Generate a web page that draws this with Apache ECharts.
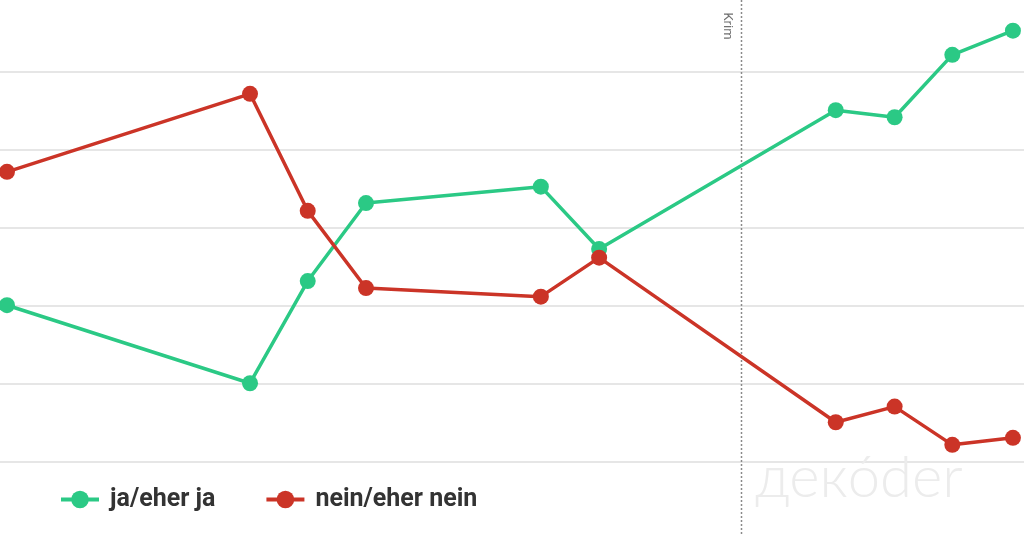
<!DOCTYPE html>
<html>
<head>
<meta charset="utf-8">
<script src="https://cdn.jsdelivr.net/npm/echarts@6/dist/echarts.min.js"></script>
<style>
html,body{margin:0;padding:0;background:#fff;}
#c{width:1024px;height:535px;}
</style>
</head>
<body>
<div id="c"></div>
<script>
// survey dates (decimal years)
var dates = [2001.6, 2005.77, 2006.76, 2007.76, 2010.76, 2011.76, 2015.82, 2016.83, 2017.82, 2018.86];
var jaValues = [30.1, 20.1, 33.2, 43.2, 45.3, 37.3, 55.1, 54.2, 62.2, 65.3];
var neinValues = [47.2, 57.2, 42.2, 32.3, 31.2, 36.2, 15.1, 17.1, 12.2, 13.1];
var seriesNames = ['ja/eher ja', 'nein/eher nein'];
var krimDate = 2014.2;
var krimLabel = 'Krim';
var watermark = 'декóder';

var green = '#2bc985';
var red = '#cb3427';

function pairs(xs, ys){ return xs.map(function(x,i){ return [x, ys[i]]; }); }

var chart = echarts.init(document.getElementById('c'), null, {renderer:'canvas'});
var gridLine = '#e6e6e6';
chart.setOption({
  animation: false,
  backgroundColor: '#fff',
  grid: {left: 0, right: 0, top: 0, bottom: 73},
  xAxis: {
    type: 'value', min: 2001.48, max: 2019.05,
    axisLine: {show:false}, axisTick: {show:false}, axisLabel: {show:false}, splitLine: {show:false}
  },
  yAxis: {
    type: 'value', min: 10, max: 69.23, interval: 10,
    axisLine: {show:false}, axisTick: {show:false}, axisLabel: {show:false},
    splitLine: {show:true, lineStyle: {color:[gridLine,gridLine,gridLine,gridLine,gridLine,gridLine,'rgba(0,0,0,0)'], width: 2}}
  },
  legend: {
    left: 54, top: 482,
    itemWidth: 38, itemHeight: 22, itemGap: 49,
    lineStyle: {width: 4},
    textStyle: {fontFamily: 'Roboto', fontWeight: 'bold', fontSize: 25, color: '#333', padding: [0,0,0,6]},
    data: seriesNames
  },
  series: [
    {
      name: seriesNames[0], type: 'line', data: pairs(dates, jaValues),
      symbol: 'circle', symbolSize: 16,
      lineStyle: {color: green, width: 3.5}, itemStyle: {color: green},
      z: 3
    },
    {
      name: seriesNames[1], type: 'line', data: pairs(dates, neinValues),
      symbol: 'circle', symbolSize: 16,
      lineStyle: {color: red, width: 3.5}, itemStyle: {color: red},
      z: 4
    }
  ]
});

var kx = Math.round(chart.convertToPixel({xAxisIndex: 0}, krimDate)) + 0.5;
chart.setOption({
  graphic: [
    {
      type: 'text', left: 755, top: 449, z: 0, silent: true,
      style: {text: watermark, fontFamily: 'Lato', fontWeight: 300, fontSize: 58, fill: '#ececec'}
    },
    {
      type: 'line', z: 1, silent: true,
      shape: {x1: kx, y1: 0, x2: kx, y2: 535},
      style: {stroke: '#8a8a8a', lineWidth: 1.5, lineDash: [2, 2]}
    },
    {
      type: 'text', z: 1, silent: true,
      x: kx - 14, y: 26, rotation: -Math.PI / 2,
      style: {text: krimLabel, fontFamily: 'Roboto', fontSize: 13, fill: '#707070', align: 'center', verticalAlign: 'middle'}
    }
  ]
});
</script>
</body>
</html>
